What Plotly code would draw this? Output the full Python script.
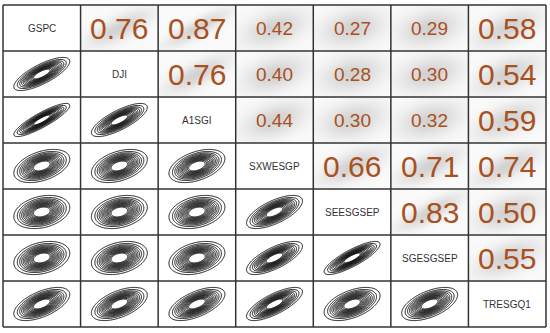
import numpy as np
import plotly.graph_objects as go
from plotly.subplots import make_subplots

labels = ["GSPC", "DJI", "A1SGI", "SXWESGP", "SEESGSEP", "SGESGSEP", "TRESGQ1"]
# upper-triangle correlations, row by row
corr_row0 = [0.76, 0.87, 0.42, 0.27, 0.29, 0.58]
corr_row1 = [0.76, 0.40, 0.28, 0.30, 0.54]
corr_row2 = [0.44, 0.30, 0.32, 0.59]
corr_row3 = [0.66, 0.71, 0.74]
corr_row4 = [0.83, 0.50]
corr_row5 = [0.55]
upper_rows = [corr_row0, corr_row1, corr_row2, corr_row3, corr_row4, corr_row5]

n = len(labels)
R = np.eye(n)
for i, row in enumerate(upper_rows):
    for k, v in enumerate(row):
        j = i + 1 + k
        R[i, j] = v
        R[j, i] = v

fig = make_subplots(rows=n, cols=n, horizontal_spacing=0, vertical_spacing=0)

lim = 3.2
g = np.linspace(-lim, lim, 110)
X, Y = np.meshgrid(g, g)

def density(r, scale=1.0):
    q = (X**2 - 2 * r * X * Y + Y**2) / (1 - r**2)
    return np.exp(-q / (2 * scale))

num_color = "#a9501f"
for i in range(n):
    for j in range(n):
        idx = i * n + j + 1
        xref = "x" if idx == 1 else f"x{idx}"
        yref = "y" if idx == 1 else f"y{idx}"
        if i == j:
            fig.add_trace(go.Scatter(x=[0], y=[0], mode="markers", marker=dict(opacity=0),
                                     hoverinfo="skip"), row=i + 1, col=j + 1)
            fig.add_annotation(text=labels[i], x=0.5, y=0.5,
                               xref=f"{xref} domain", yref=f"{yref} domain",
                               showarrow=False,
                               font=dict(family="Liberation Sans, Arial", size=10, color="#333333"))
        elif j > i:
            r = R[i, j]
            fig.add_trace(go.Heatmap(x=g, y=g, z=density(r, 3.0), zmin=0, zmax=1,
                                     colorscale=[[0, "#fafafa"], [1, "#d2d2d2"]],
                                     zsmooth="best", showscale=False, hoverinfo="skip"),
                          row=i + 1, col=j + 1)
            big = r >= 0.5
            fig.add_annotation(text=f"{r:.2f}", x=0.5, y=0.5,
                               xref=f"{xref} domain", yref=f"{yref} domain",
                               showarrow=False,
                               font=dict(family="Liberation Sans, Arial",
                                         size=30 if big else 19, color=num_color))
        else:
            r = R[i, j]
            fig.add_trace(go.Contour(x=g, y=g, z=density(r),
                                     contours=dict(coloring="lines", start=0.07, end=0.8, size=0.06),
                                     line=dict(width=1.0),
                                     colorscale=[[0, "#111111"], [1, "#111111"]],
                                     showscale=False, hoverinfo="skip"),
                          row=i + 1, col=j + 1)

fig.update_xaxes(range=[-lim, lim], showgrid=False, zeroline=False, showticklabels=False,
                 ticks="", showline=False)
fig.update_yaxes(range=[-lim, lim], showgrid=False, zeroline=False, showticklabels=False,
                 ticks="", showline=False)

# cell grid lines
for k in range(n + 1):
    p = k / n
    fig.add_shape(type="line", xref="paper", yref="paper", x0=p, x1=p, y0=0, y1=1,
                  line=dict(color="#333333", width=1.5), layer="above")
    fig.add_shape(type="line", xref="paper", yref="paper", x0=0, x1=1, y0=p, y1=p,
                  line=dict(color="#333333", width=1.5), layer="above")

fig.update_layout(width=550, height=333, margin=dict(l=3, r=4, t=5, b=6),
                  paper_bgcolor="white", plot_bgcolor="white", showlegend=False)

fig.write_html("out.html", config={"displayModeBar": False},
               post_script="document.body.style.margin='0';")
